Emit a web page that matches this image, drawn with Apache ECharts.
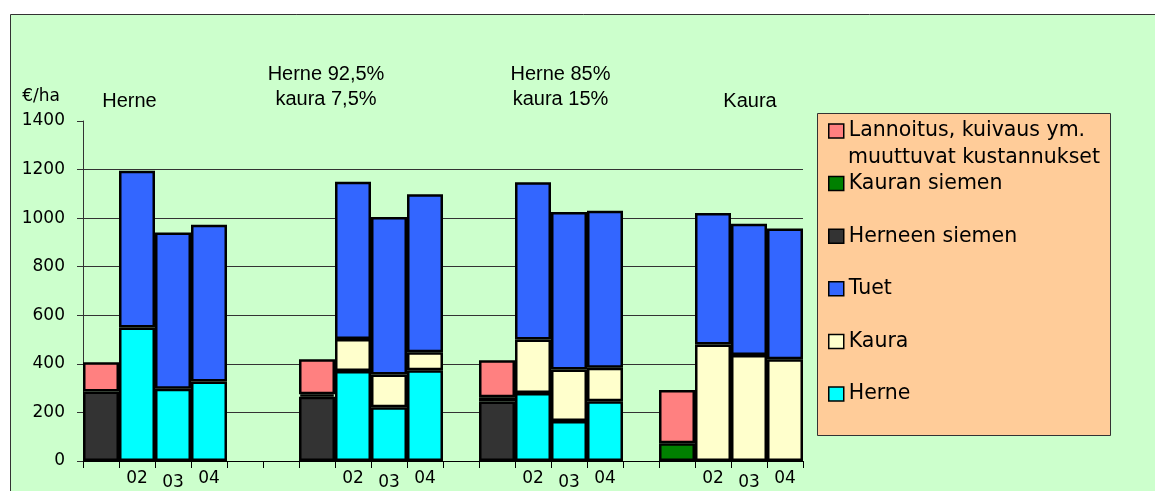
<!DOCTYPE html>
<html><head><meta charset="utf-8">
<script src="https://cdn.jsdelivr.net/npm/echarts@6/dist/echarts.min.js"></script>
<style>html,body{margin:0;padding:0;background:#fff}#c{width:1155px;height:491px}</style>
</head><body><div id="c"></div>
<script>
// ---- data ----
const categories = ['', '02', '03', '04', '', '', '', '02', '03', '04', '', '', '02', '03', '04', '', '', '02', '03', '04'];
const herne         = [null, 550, 297, 327, null, null, null, 371, 221, 374, null, null, 280, 165, 246, null, null, null, null, null];
const kaura         = [null, null, null, null, null, null, null, 131, 135, 74, null, null, 220, 212, 138, null, null, 480, 436, 419];
const tuet          = [null, 645, 644, 646, null, null, null, 648, 649, 650, null, null, 648, 648, 646, null, null, 541, 541, 538];
const herneenSiemen = [286, null, null, null, null, null, 265, null, null, null, null, 245, null, null, null, null, null, null, null, null];
const kauranSiemen  = [null, null, null, null, null, null, 10, null, null, null, null, 18, null, null, null, null, 73, null, null, null];
const lannoitus     = [121, null, null, null, null, null, 144, null, null, null, null, 152, null, null, null, null, 219, null, null, null];
const groupTitles = ['Herne', 'Herne 92,5%\nkaura 7,5%', 'Herne 85%\nkaura 15%', 'Kaura'];
const yMin = 0, yMax = 1400, yStep = 200;
const unitLabel = '€/ha';
const LANN = 'Lannoitus, kuivaus ym. muuttuvat kustannukset';
const names = [LANN, 'Kauran siemen', 'Herneen siemen', 'Tuet', 'Kaura', 'Herne'];

// ---- chart ----
const AX = 'DejaVu Sans';
const TF = 'Liberation Sans';
const chart = echarts.init(document.getElementById('c'), null, {renderer: 'canvas'});
function bar(name, data, color) {
  return {
    name, type: 'bar', stack: 'a', data,
    barCategoryGap: '0%',
    itemStyle: {color, borderColor: '#000', borderWidth: 2.5},
    emphasis: {disabled: true}
  };
}
const titleX = [129.5, 326, 560.5, 750];
const titleY = [101, 87, 87, 101];
chart.setOption({
  backgroundColor: '#fff',
  animation: false,
  grid: {left: 83, right: 1155 - 803, top: 121, bottom: 30, containLabel: false},
  xAxis: {
    type: 'category', data: categories,
    axisLine: {lineStyle: {color: '#000', width: 1}},
    axisTick: {show: true, interval: 0, length: 7, lineStyle: {color: '#000'}},
    axisLabel: {
      interval: 0, margin: 9, color: '#000', fontFamily: AX, fontSize: 17,
      formatter: (v) => v === '03' ? '{low|03}' : v,
      rich: {low: {padding: [4, 0, 0, 0], fontFamily: AX, fontSize: 17, color: '#000'}}
    },
    splitLine: {show: false}
  },
  yAxis: {
    type: 'value', min: yMin, max: yMax, interval: yStep,
    name: unitLabel, nameLocation: 'end', nameGap: 24,
    nameTextStyle: {fontFamily: AX, fontSize: 17, color: '#000', align: 'right', verticalAlign: 'middle', padding: [0, 23, 0, 0]},
    axisLine: {show: true, lineStyle: {color: '#333', width: 1}},
    axisTick: {show: true, length: 6, lineStyle: {color: '#333'}},
    axisLabel: {margin: 18, color: '#000', fontFamily: AX, fontSize: 17, formatter: (v) => String(v)},
    splitLine: {show: true, showMaxLine: false, lineStyle: {color: '#333', width: 1}}
  },
  legend: {
    orient: 'vertical', left: 828, top: 118, padding: 0,
    data: names, itemWidth: 15, itemHeight: 14, itemGap: 26.6,
    icon: 'rect',
    itemStyle: {borderColor: '#000', borderWidth: 1.5},
    formatter: (n) => n === LANN ? 'Lannoitus, kuivaus ym.' : n,
    textStyle: {fontFamily: AX, fontSize: 20.5, color: '#000', lineHeight: 26},
    selectedMode: false
  },
  graphic: [
    {type: 'rect', z: -10, shape: {x: 10.5, y: 14.5, width: 1200, height: 500},
     style: {fill: '#CCFFCC', stroke: '#333', lineWidth: 1}, silent: true},
    {type: 'rect', z: -5, shape: {x: 817.5, y: 113.5, width: 293, height: 322},
     style: {fill: '#FFCC99', stroke: '#333', lineWidth: 1}, silent: true},
    {type: 'text', z: 10, x: 848, y: 158,
     style: {text: 'muuttuvat kustannukset', fontFamily: AX, fontSize: 20.5, fill: '#000', textVerticalAlign: 'middle'}},
    ...groupTitles.map((t, i) => ({
      type: 'text', z: 10, x: titleX[i], y: titleY[i],
      style: {text: t, fontFamily: TF, fontSize: 20, lineHeight: 25, fill: '#000', textAlign: 'center', textVerticalAlign: 'middle'}
    }))
  ],
  series: [
    bar('Herne', herne, '#00FFFF'),
    bar('Kaura', kaura, '#FFFFCC'),
    bar('Tuet', tuet, '#3366FF'),
    bar('Herneen siemen', herneenSiemen, '#333333'),
    bar('Kauran siemen', kauranSiemen, '#008000'),
    bar(LANN, lannoitus, '#FF8080')
  ]
});
</script></body></html>
